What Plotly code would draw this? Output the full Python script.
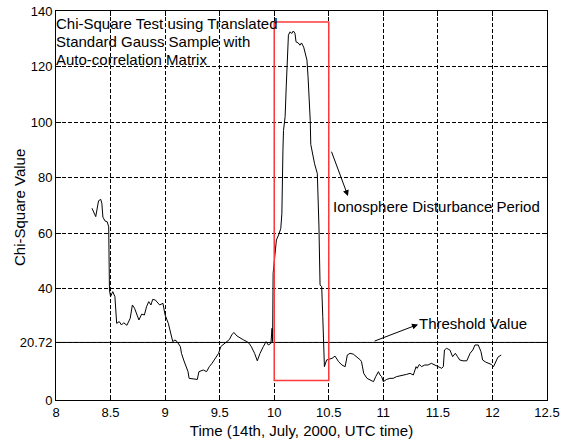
import plotly.graph_objects as go

# Chi-square statistic over time (UTC hours, 14 July 2000)
time_h = [
    8.33, 8.364, 8.39, 8.41, 8.42, 8.43, 8.45, 8.47, 8.483, 8.486, 8.49, 8.50,
    8.52, 8.54, 8.547, 8.556, 8.58, 8.60, 8.62, 8.65, 8.68, 8.70, 8.72, 8.745,
    8.76, 8.785, 8.81, 8.83, 8.85, 8.87, 8.886, 8.91, 8.93, 8.95, 8.98, 9.0,
    9.03, 9.05, 9.07, 9.09, 9.11, 9.14, 9.15, 9.17, 9.19, 9.21, 9.22, 9.26,
    9.295, 9.31, 9.35, 9.38, 9.405, 9.43, 9.46, 9.49, 9.51, 9.53, 9.56, 9.59,
    9.61, 9.63, 9.66, 9.69, 9.72, 9.75, 9.77, 9.79, 9.82, 9.845, 9.87, 9.90,
    9.925, 9.946, 9.97, 9.98, 9.985, 9.99, 10.0, 10.01, 10.02, 10.04, 10.06,
    10.07, 10.072, 10.08, 10.085, 10.10, 10.11, 10.12, 10.13, 10.145, 10.16,
    10.175, 10.19, 10.2, 10.22, 10.236, 10.25, 10.27, 10.28, 10.30, 10.31,
    10.32, 10.33, 10.335, 10.35, 10.37, 10.395, 10.40, 10.41, 10.42, 10.435,
    10.445, 10.456, 10.46, 10.48, 10.53, 10.557, 10.59, 10.62, 10.65, 10.67,
    10.695, 10.725, 10.756, 10.79, 10.80, 10.82, 10.85, 10.88, 10.91, 10.93,
    10.955, 10.97, 10.985, 11.0, 11.03, 11.06, 11.09, 11.12, 11.15, 11.18,
    11.21, 11.245, 11.275, 11.30, 11.31, 11.33, 11.35, 11.38, 11.41, 11.44,
    11.47, 11.50, 11.535, 11.55, 11.56, 11.58, 11.61, 11.635, 11.66, 11.68,
    11.70, 11.73, 11.765, 11.795, 11.82, 11.84, 11.87, 11.895, 11.91, 11.94,
    11.97, 11.99, 12.01, 12.03, 12.05, 12.08,
]
chi_square = [
    69, 66, 71.7, 72.2, 70.8, 65.8, 64.4, 64.1, 62.3, 52.9, 39.6, 37.2,
    39, 37.2, 30, 27.6, 28.2, 27, 27.8, 26.9, 29.4, 34.2, 33, 30,
    28.8, 30.9, 30.6, 33.6, 35.4, 34.2, 36.2, 36, 35, 34.2, 34.8, 30.6,
    27.5, 24.5, 21, 21.6, 21, 19.2, 16.8, 14.4, 12.6, 10.2, 7.8, 7.7,
    7.4, 10.2, 10.8, 10.2, 12, 13.2, 15, 16.8, 19.2, 19.8, 21, 21.8,
    23.4, 24.3, 23, 22.2, 21.6, 21, 20.4, 19.2, 16.8, 14.1, 16.8, 19.2,
    21, 19.8, 20.4, 25.8, 21, 45.6, 50.4, 54, 57.6, 59.4, 61.7,
    67, 79, 90, 97, 102, 112.7, 123.5, 131.3, 132.5, 131.9,
    132.8, 132, 128.9, 128.5, 127.7, 128.5, 127, 125.3, 122.3, 116.3,
    109, 100.7, 92, 88.7, 85, 81.5, 76, 62.3, 41.4, 40.8,
    30, 20.4, 12, 14.4, 15, 15.8, 13.8, 12.6, 12, 16.2,
    16.8, 16.5, 15.6, 14.4, 13.8, 9.6, 7.8, 7.2, 6.6, 8.4,
    10.2, 9, 8.4, 6.6, 7.4, 7.8, 7.8, 8.4, 8.6, 9,
    9.2, 9.6, 9, 12, 11.4, 12.8, 12, 12.6, 12.6, 13.2,
    12.6, 12, 11.4, 12, 18, 18.6, 18, 15.6, 16.8, 15.6,
    14.4, 14.1, 14.1, 16.8, 18, 19.8, 19.8, 17.4, 14.4, 13.6,
    13.2, 12.8, 12, 13.6, 15.4, 16.2,
]

threshold = 20.72
period_x = [10.0, 10.5]
period_y = [7, 136]
y_ticks = [0, threshold, 40, 60, 80, 100, 120, 140]
y_labels = ["0", "20.72", "40", "60", "80", "100", "120", "140"]
x_ticks = [8, 8.5, 9, 9.5, 10, 10.5, 11, 11.5, 12, 12.5]
note_lines = ["Chi-Square Test using Translated",
              "Standard Gauss Sample with",
              "Auto-correlation Matrix"]
note_y = [135.6, 129.1, 122.6]

FONT = "Liberation Sans, Arial, sans-serif"
TXT = 15

fig = go.Figure()
fig.add_trace(go.Scatter(
    x=time_h, y=chi_square, mode="lines",
    line={"color": "black", "width": 1},
    showlegend=False,
))

# threshold line and disturbance window
fig.add_shape(type="line", xref="paper", yref="y", x0=0, x1=1,
              y0=threshold, y1=threshold, line={"color": "black", "width": 1})
fig.add_shape(type="rect", x0=period_x[0], x1=period_x[1],
              y0=period_y[0], y1=period_y[1],
              line={"color": "#ff3b3b", "width": 1.5})

for line, yv in zip(note_lines, note_y):
    fig.add_annotation(
        text=line, x=8.0, y=yv, xanchor="left", yanchor="middle", xshift=-2,
        showarrow=False, font={"size": TXT, "color": "black"},
    )
fig.add_annotation(
    text="Ionosphere Disturbance Period",
    x=10.55, y=69.5, xanchor="left", yanchor="middle", xshift=-3,
    showarrow=False, font={"size": TXT, "color": "black"},
)
fig.add_annotation(
    x=10.676, y=73.4, ax=10.52, ay=89.9, axref="x", ayref="y",
    text="", showarrow=True, arrowhead=2, arrowsize=1.2, arrowwidth=1,
    arrowcolor="black",
)
fig.add_annotation(
    text="Threshold Value",
    x=11.336, y=27.6, xanchor="left", yanchor="middle", xshift=-3,
    showarrow=False, font={"size": TXT, "color": "black"},
)
fig.add_annotation(
    x=11.318, y=27.2, ax=10.906, ay=21, axref="x", ayref="y",
    text="", showarrow=True, arrowhead=2, arrowsize=1.2, arrowwidth=1,
    arrowcolor="black",
)
# y title placed by hand, it sits closer to the axis than plotly allows
fig.add_annotation(
    text="Chi-Square Value", textangle=-90,
    xref="paper", yref="paper", x=-0.073, y=0.494,
    xanchor="center", yanchor="middle",
    showarrow=False, font={"size": TXT, "color": "black"},
)

axis_style = dict(
    showline=True, linecolor="black", linewidth=1, mirror="ticks",
    ticks="inside", ticklen=5, tickcolor="black", automargin=False,
    ticklabeloverflow="allow",
    showgrid=True, gridcolor="black", gridwidth=1, griddash="4px,2px",
    zeroline=False, tickfont={"size": 13, "color": "black"},
)
fig.update_xaxes(range=[8, 12.5], tickvals=x_ticks,
                 ticktext=[f"{v:g}" for v in x_ticks],
                 title={"text": "Time (14th, July, 2000, UTC time)",
                        "font": {"size": TXT, "color": "black"}, "standoff": 6},
                 **axis_style)
fig.update_yaxes(range=[0, 140], tickvals=y_ticks, ticktext=y_labels,
                 **axis_style)
fig.update_layout(
    width=565, height=444,
    margin={"l": 56, "r": 18, "t": 11, "b": 44},
    paper_bgcolor="white", plot_bgcolor="white",
    font={"family": FONT, "color": "black"},
)
# drop the default 8px body margin so the figure fills the window
fig.write_html("out.html", config={"displayModeBar": False},
               post_script="document.body.style.margin = '0';")
